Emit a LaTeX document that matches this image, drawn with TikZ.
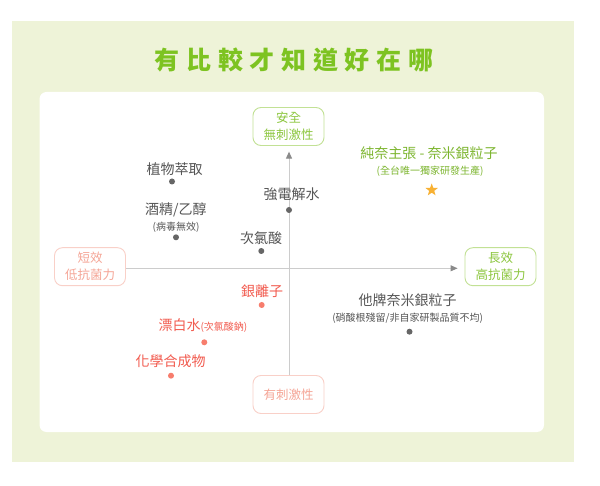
\documentclass[tikz,border=0pt]{standalone}
\usepackage{fontspec}
\setmainfont{Noto Sans CJK TC}
\newfontfamily\titlefont[LetterSpace=26.8]{Noto Sans CJK TC}
\usetikzlibrary{arrows.meta,shapes.geometric}
\definecolor{bggreen}{HTML}{EEF3D8}
\definecolor{titlegreen}{HTML}{7DC321}
\definecolor{safegreen}{HTML}{8CC63E}
\definecolor{safeline}{HTML}{C2E195}
\definecolor{riskpink}{HTML}{F5A596}
\definecolor{riskline}{HTML}{F9D0C8}
\definecolor{txtgray}{HTML}{555555}
\definecolor{dotgray}{HTML}{666666}
\definecolor{chemred}{HTML}{F25C50}
\definecolor{chemdot}{HTML}{F77D6D}
\definecolor{brandgreen}{HTML}{7CB52E}
\definecolor{axisgray}{HTML}{CCCCCC}
\definecolor{arrowgray}{HTML}{8A8A8A}
\definecolor{stargold}{HTML}{F8B133}
\newcommand\smalltxt{\fontsize{10}{10}\selectfont}

\begin{document}
\begin{tikzpicture}[x=1pt,y=-1pt,
 lbl/.style={text=txtgray,font=\fontsize{14}{14}\selectfont,inner sep=0pt},
 sub/.style={text=txtgray,font=\smalltxt,inner sep=0pt},
 dot/.style={circle,fill=dotgray,minimum size=6pt,inner sep=0pt},
 pole/.style={draw,rounded corners=8pt,line width=0.9pt,minimum width=71pt,minimum height=38pt,align=center,font=\fontsize{12.5}{17}\selectfont},
 axis/.style={draw=axisgray,line width=0.9pt,-{Triangle[length=7pt,width=6pt,color=arrowgray]}}]
\useasboundingbox (0,0) rectangle (600,486);
\fill[white] (0,0) rectangle (600,486);
\fill[bggreen] (12,21) rectangle (574,462);
\fill[white,rounded corners=7pt] (39.5,92) rectangle (544,432);
\node[text=titlegreen,font=\titlefont\bfseries\fontsize{25}{25}\selectfont] (title) at (294,60) {有比較才知道好在哪};
\node[pole,draw=safeline,text=safegreen] (safe) at (288.5,126.5) {安全\\無刺激性};
\node[pole,draw=riskline,text=riskpink] (irritant) at (288.5,394.5) {有刺激性};
\node[pole,draw=riskline,text=riskpink] (short) at (90,266.7) {短效\\低抗菌力};
\node[pole,draw=safeline,text=safegreen] (long) at (500.5,266.7) {長效\\高抗菌力};
\draw[axis] ([yshift=-1.6pt]short.east) -- ([xshift=-7pt,yshift=-1.6pt]long.west);
\draw[axis] ([xshift=0.5pt]irritant.north) -- ([xshift=0.5pt,yshift=-5.7pt]safe.south);
\node[dot] (herb) at (172,181.5) {};
\node[lbl] (herbt) at (174.5,169) {植物萃取};
\node[dot] (alcohol) at (176,237.3) {};
\node[lbl] (alcoholt) at (175.8,210) {酒精/乙醇};
\node[sub] (alcohols) at (176,227.7) {(病毒無效)};
\node[dot] (electro) at (289,210) {};
\node[lbl] (electrot) at (291.7,194) {強電解水};
\node[dot] (hocl) at (261.3,251) {};
\node[lbl] (hoclt) at (261,238) {次氯酸};
\node[star,star points=5,star point ratio=2.4,fill=stargold,inner sep=0pt,minimum size=13pt] (nano) at (431.7,190) {};
\node[lbl,text=brandgreen] (nanot) at (429,153.3) {純奈主張 - 奈米銀粒子};
\node[sub,text=brandgreen] (nanos) at (430,171.7) {(全台唯一獨家研發生產)};
\node[dot,fill=chemdot] (ion) at (261.7,305) {};
\node[lbl,text=chemred] (iont) at (262,290.7) {銀離子};
\node[dot] (other) at (409.5,331.7) {};
\node[lbl] (othert) at (407.6,300) {他牌奈米銀粒子};
\node[sub] (others) at (407.6,318.3) {(硝酸根殘留/非自家研製品質不均)};
\node[dot,fill=chemdot] (bleach) at (204.3,342.3) {};
\node[lbl,text=chemred,anchor=west] (bleacht) at (158.3,325.5) {漂白水{\smalltxt(次氯酸鈉)}};
\node[dot,fill=chemdot] (chem) at (171,375.7) {};
\node[lbl,text=chemred] (chemt) at (170.5,361.7) {化學合成物};
\end{tikzpicture}
\end{document}
